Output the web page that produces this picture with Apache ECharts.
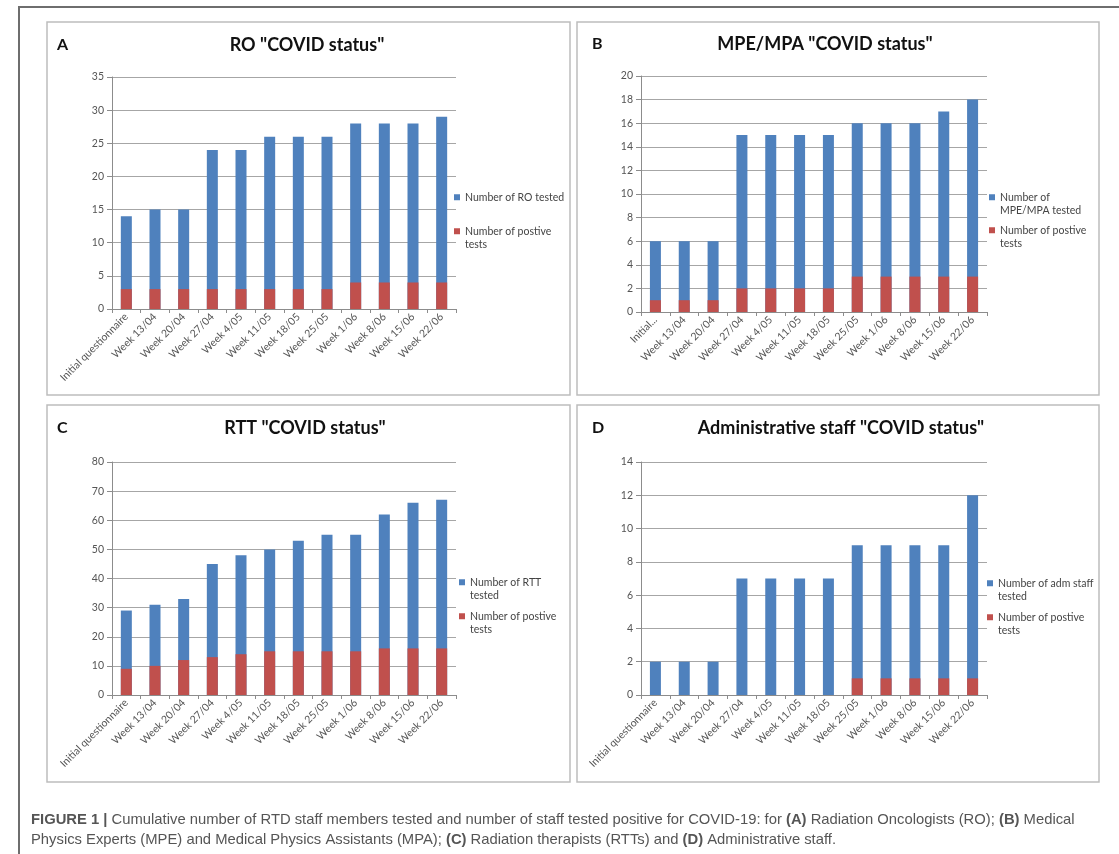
<!DOCTYPE html>
<html>
<head>
<meta charset="utf-8">
<script src="https://cdn.jsdelivr.net/npm/echarts@6/dist/echarts.min.js"></script>
<style>
html,body{margin:0;padding:0;background:#fff;}
#chart{width:1119px;height:854px;}
</style>
</head>
<body>
<div id="chart"></div>
<script>
// ---- data ----
const categories = ['Initial questionnaire','Week 13/04','Week 20/04','Week 27/04','Week 4/05','Week 11/05','Week 18/05','Week 25/05','Week 1/06','Week 8/06','Week 15/06','Week 22/06'];
const categoriesB = ['Initial...','Week 13/04','Week 20/04','Week 27/04','Week 4/05','Week 11/05','Week 18/05','Week 25/05','Week 1/06','Week 8/06','Week 15/06','Week 22/06'];

const roTested   = [14,15,15,24,24,26,26,26,28,28,28,29];
const roPositive = [3,3,3,3,3,3,3,3,4,4,4,4];

const mpeTested   = [6,6,6,15,15,15,15,16,16,16,17,18];
const mpePositive = [1,1,1,2,2,2,2,3,3,3,3,3];

const rttTested   = [29,31,33,45,48,50,53,55,55,62,66,67];
const rttPositive = [9,10,12,13,14,15,15,15,15,16,16,16];

const admTested   = [2,2,2,7,7,7,7,9,9,9,9,12];
const admPositive = [0,0,0,0,0,0,0,1,1,1,1,1];

const panelTitles = ['RO "COVID status"','MPE/MPA "COVID status"','RTT "COVID status"','Administrative staff "COVID status"'];
const panelLetters = ['A','B','C','D'];
const testedNames = ['Number of RO tested','Number of MPE/MPA tested','Number of RTT tested','Number of adm staff tested'];
const positiveName = 'Number of postive tests';

// ---- layout ----
const BLUE = '#4F81BD', RED = '#C0504D';
const FONT = 'Lato, "Open Sans", sans-serif';
const panels = [
  {grid:{left:112, top:77, width:344, height:232}, cats:categories, tested:roTested, pos:roPositive, max:35, interval:5,
   title:{x:307,y:45}, letter:{x:57,y:45}, legend:{x:454, y1:197, y2:231}},
  {grid:{left:641, top:76, width:346, height:236}, cats:categoriesB, tested:mpeTested, pos:mpePositive, max:20, interval:2,
   title:{x:825,y:44}, letter:{x:592,y:44}, legend:{x:989, y1:197, y2:230}},
  {grid:{left:112, top:462, width:344, height:233}, cats:categories, tested:rttTested, pos:rttPositive, max:80, interval:10,
   title:{x:305,y:428}, letter:{x:57,y:428}, legend:{x:459, y1:582, y2:616}},
  {grid:{left:641, top:462, width:346, height:233}, cats:categories, tested:admTested, pos:admPositive, max:14, interval:2,
   title:{x:841,y:428}, letter:{x:592,y:428}, legend:{x:987, y1:583, y2:617}}
];

// Legend labels as wrapped in the reference; a leading blank line keeps the
// marker aligned with the first text line for two-line entries.
const legendText = {
  'Number of RO tested':'Number of RO tested',
  'Number of MPE/MPA tested':'\nNumber of\nMPE/MPA tested',
  'Number of RTT tested':'\nNumber of RTT\ntested',
  'Number of adm staff tested':'\nNumber of adm staff\ntested',
  'Number of postive tests':'\nNumber of postive\ntests'
};

const grids=[], xAxes=[], yAxes=[], series=[], legends=[], titles=[];
panels.forEach((p,i)=>{
  grids.push(Object.assign({containLabel:false}, p.grid));
  xAxes.push({
    type:'category', gridIndex:i, data:p.cats, boundaryGap:true,
    axisLine:{lineStyle:{color:'#8c8c8c', width:1}},
    axisTick:{show:true, length:4, lineStyle:{color:'#8c8c8c'}},
    axisLabel:{rotate:45, interval:0, color:'#555', fontSize:10.5, fontFamily:FONT, margin:6}
  });
  yAxes.push({
    type:'value', gridIndex:i, min:0, max:p.max, interval:p.interval,
    axisLine:{show:true, lineStyle:{color:'#8c8c8c', width:1}},
    axisTick:{show:true, length:5, lineStyle:{color:'#8c8c8c'}},
    axisLabel:{color:'#555', fontSize:10.5, fontFamily:FONT, margin:8},
    splitLine:{lineStyle:{color:'#a6a6a6', width:1}}
  });
  series.push({
    type:'bar', name:testedNames[i], xAxisIndex:i, yAxisIndex:i, data:p.tested,
    barWidth:11, barGap:'-100%', itemStyle:{color:BLUE}, silent:true
  });
  series.push({
    type:'bar', name:positiveName, xAxisIndex:i, yAxisIndex:i, data:p.pos,
    barWidth:11, barGap:'-100%', itemStyle:{color:RED}, silent:true
  });
  const twoLine1 = legendText[testedNames[i]].indexOf('\n')>=0;
  legends.push({
    data:[testedNames[i]], orient:'vertical', left:p.legend.x,
    top: twoLine1 ? p.legend.y1 - 20 : p.legend.y1 - 6.5,
    padding:0, itemWidth:6, itemHeight:6, icon:'rect', selectedMode:false,
    formatter:n=>legendText[n],
    textStyle:{color:'#444', fontSize:10.5, fontFamily:FONT, lineHeight:13.5}
  });
  legends.push({
    data:[positiveName], orient:'vertical', left:p.legend.x, top:p.legend.y2 - 20,
    padding:0, itemWidth:6, itemHeight:6, icon:'rect', selectedMode:false,
    formatter:n=>legendText[n],
    textStyle:{color:'#444', fontSize:10.5, fontFamily:FONT, lineHeight:13.5}
  });
  titles.push({
    text:panelTitles[i], left:p.title.x, top:p.title.y-11, textAlign:'center', padding:0,
    textStyle:{fontSize:18, fontWeight:'bold', color:'#111', fontFamily:FONT, lineHeight:22}
  });
  titles.push({
    text:panelLetters[i], left:p.letter.x, top:p.letter.y-10, padding:0,
    textStyle:{fontSize:16, fontWeight:'bold', color:'#111', fontFamily:FONT, lineHeight:20}
  });
});

const CAPFONT = '"Liberation Sans", Arial, sans-serif';
const CAPSIZE = 14.8;
const capRich = {
  b:{fontWeight:'bold', color:'#222', fontSize:CAPSIZE, fontFamily:CAPFONT},
  s:{fontWeight:'bold', color:'#888', fontSize:CAPSIZE, fontFamily:CAPFONT}
};

const graphic = [
  {type:'polyline', shape:{points:[[1119,7],[19,7],[19,854]]}, style:{stroke:'#6e6e6e', lineWidth:2, fill:null}, silent:true},
  {type:'rect', shape:{x:47, y:22, width:523, height:373}, style:{stroke:'#bdbdbd', lineWidth:1.5, fill:null}, silent:true},
  {type:'rect', shape:{x:577, y:22, width:522, height:373}, style:{stroke:'#bdbdbd', lineWidth:1.5, fill:null}, silent:true},
  {type:'rect', shape:{x:47, y:405, width:523, height:377}, style:{stroke:'#bdbdbd', lineWidth:1.5, fill:null}, silent:true},
  {type:'rect', shape:{x:577, y:405, width:522, height:377}, style:{stroke:'#bdbdbd', lineWidth:1.5, fill:null}, silent:true},
  {type:'text', left:31, top:812, silent:true, style:{
    text:'{b|FIGURE 1} {s||} Cumulative number of RTD staff members tested and number of staff tested positive for COVID-19: for {b|(A)} Radiation Oncologists (RO); {b|(B)} Medical',
    fill:'#555', fontSize:CAPSIZE, fontFamily:CAPFONT, rich:capRich}},
  {type:'text', left:31, top:832, silent:true, style:{
    text:'Physics Experts (MPE) and Medical Physics Assistants (MPA); {b|(C)} Radiation therapists (RTTs) and {b|(D)} Administrative staff.',
    fill:'#555', fontSize:CAPSIZE, fontFamily:CAPFONT, rich:capRich}}
];

const chart = echarts.init(document.getElementById('chart'), null, {renderer:'canvas'});
chart.setOption({
  animation:false,
  backgroundColor:'#fff',
  title:titles,
  grid:grids, xAxis:xAxes, yAxis:yAxes, series:series, legend:legends,
  graphic:graphic
});
</script>
</body>
</html>
